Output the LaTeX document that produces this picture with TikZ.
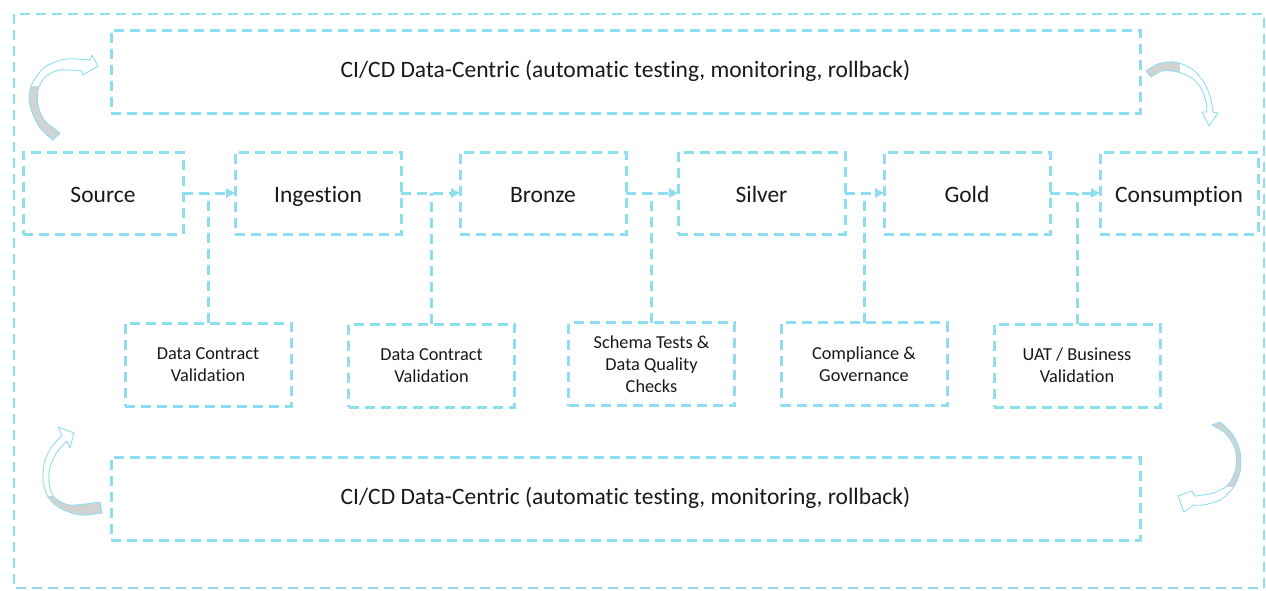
\documentclass[tikz,border=0pt]{standalone}
\usepackage{fontspec}
\setmainfont{Carlito}[Ligatures=NoCommon]
\usetikzlibrary{arrows.meta}
\definecolor{cy}{RGB}{142,222,240}
\definecolor{ink}{RGB}{25,25,25}
\definecolor{loopgray}{RGB}{210,210,210}
\begin{document}
\begin{tikzpicture}[x=1pt,y=-1pt,
  dashline/.style={draw=cy, line width=3pt, dash pattern=on 10pt off 6pt},
  dbox/.style={dashline, inner sep=0pt, outer sep=0pt, text=ink, align=center},
  stage/.style={dbox, minimum height=82pt, font=\fontsize{23.5}{28}\selectfont,
    text height=18pt, text depth=0pt},
  check/.style={dbox, minimum width=166pt, minimum height=83pt, font=\fontsize{18.3}{22}\selectfont},
  cibox/.style={dbox, minimum width=1029pt, minimum height=83pt, font=\fontsize{23.5}{28}\selectfont,
    text height=15pt, text depth=4pt},
  flow/.style={dashline, -{Triangle[length=9pt,width=9pt]}},
  link/.style={dashline},
  loopline/.style={draw=cy, line width=0.9pt, line join=round},
]
\useasboundingbox (0,0) rectangle (1266,590);

% outer frame
\draw[link, line width=2.5pt] (14,14) rectangle (1264,588);

% CI/CD bands
\node[cibox] (topci) at (625.5,71.5) {CI/CD Data-Centric (automatic testing, monitoring, rollback)};
\node[cibox] (botci) at (625.5,498.5) {CI/CD Data-Centric (automatic testing, monitoring, rollback)};

% pipeline stages
\node[stage, minimum width=160pt] (src) at (103,193)   {Source};
\node[stage, minimum width=166pt] (ing) at (318,193)   {Ingestion};
\node[stage, minimum width=166pt] (brz) at (543,193)   {Bronze};
\node[stage, minimum width=167pt] (slv) at (761.5,193) {Silver};
\node[stage, minimum width=166pt] (gld) at (967,193)   {Gold};
\node[stage, minimum width=158pt] (con) at (1179,193)  {Consumption};

% quality gates
\node[check] (c1) at (208,364.5)   {Data Contract\\Validation};
\node[check] (c2) at (431.5,365.5) {Data Contract\\Validation};
\node[check] (c3) at (651.5,364)   {Schema Tests \&\\Data Quality\\Checks};
\node[check] (c4) at (864,364)     {Compliance \&\\Governance};
\node[check] (c5) at (1077,365.5)  {UAT / Business\\Validation};

% stage flow
\draw[flow] (src.east) -- (ing.west);
\draw[flow] (ing.east) -- (brz.west);
\draw[flow] (brz.east) -- (slv.west);
\draw[flow] (slv.east) -- (gld.west);
\draw[flow] (gld.east) -- (con.west);

% gates hooked onto the flow
\draw[link] (c1.north) -- (c1.north |- src.east);
\draw[link] (c2.north) -- (c2.north |- ing.east);
\draw[link] (c3.north) -- (c3.north |- brz.east);
\draw[link] (c4.north) -- (c4.north |- slv.east);
\draw[link] (c5.north) -- (c5.north |- gld.east);

% curved loop arrows
\path[save path=\loopA]
  plot[smooth] coordinates {(53,140) (40,128) (32,112) (29,97) (33,82) (45,67) (66,59) (90,60)}
  -- (92,55) -- (98,66) -- (83,75)
  -- plot[smooth] coordinates {(82,71) (60,70) (45,77) (38,90) (38,105) (44,120) (60,133)}
  -- cycle;
\path[save path=\loopB]
  plot[smooth] coordinates {(1146,71) (1158,64) (1175,62) (1192,69) (1203,81) (1210,96) (1213,112)}
  -- (1218,113) -- (1209,126) -- (1202,112)
  -- plot[smooth] coordinates {(1207,112) (1206,102) (1202,90) (1193,79) (1178,72) (1162,71) (1151,77)}
  -- cycle;
\path[save path=\loopC]
  plot[smooth] coordinates {(102,513) (80,515) (60,508) (48,497) (43,480) (45,460) (53,445) (62,436)}
  -- (58,427) -- (74,433) -- (70,448)
  -- plot[smooth] coordinates {(67,441) (57,452) (50,467) (49,483) (54,497) (70,505) (100,502)}
  -- cycle;
\path[save path=\loopD]
  plot[smooth] coordinates {(1220,422) (1233,435) (1240,452) (1240,472) (1233,488) (1220,500) (1203,505) (1194,505)}
  -- (1184,512) -- (1178,496) -- (1192,491)
  -- plot[smooth] coordinates {(1195,496) (1213,493) (1228,485) (1236,468) (1235,448) (1225,433) (1212,425)}
  -- cycle;

\fill[white, use path=\loopA];
\fill[white, use path=\loopB];
\fill[white, use path=\loopC];
\fill[white, use path=\loopD];
\begin{scope}
  \clip[use path=\loopA];
  \fill[loopgray] (20,86) rectangle (70,150);
\end{scope}
\begin{scope}
  \clip[use path=\loopB];
  \fill[loopgray] (1140,50) rectangle (1180,85);
\end{scope}
\begin{scope}
  \clip[use path=\loopC];
  \fill[loopgray] (40,496) rectangle (110,520);
\end{scope}
\begin{scope}
  \clip[use path=\loopD];
  \fill[loopgray] (1205,415) rectangle (1250,487);
\end{scope}
\draw[loopline, use path=\loopA];
\draw[loopline, use path=\loopB];
\draw[loopline, use path=\loopC];
\draw[loopline, use path=\loopD];
\end{tikzpicture}
\end{document}
